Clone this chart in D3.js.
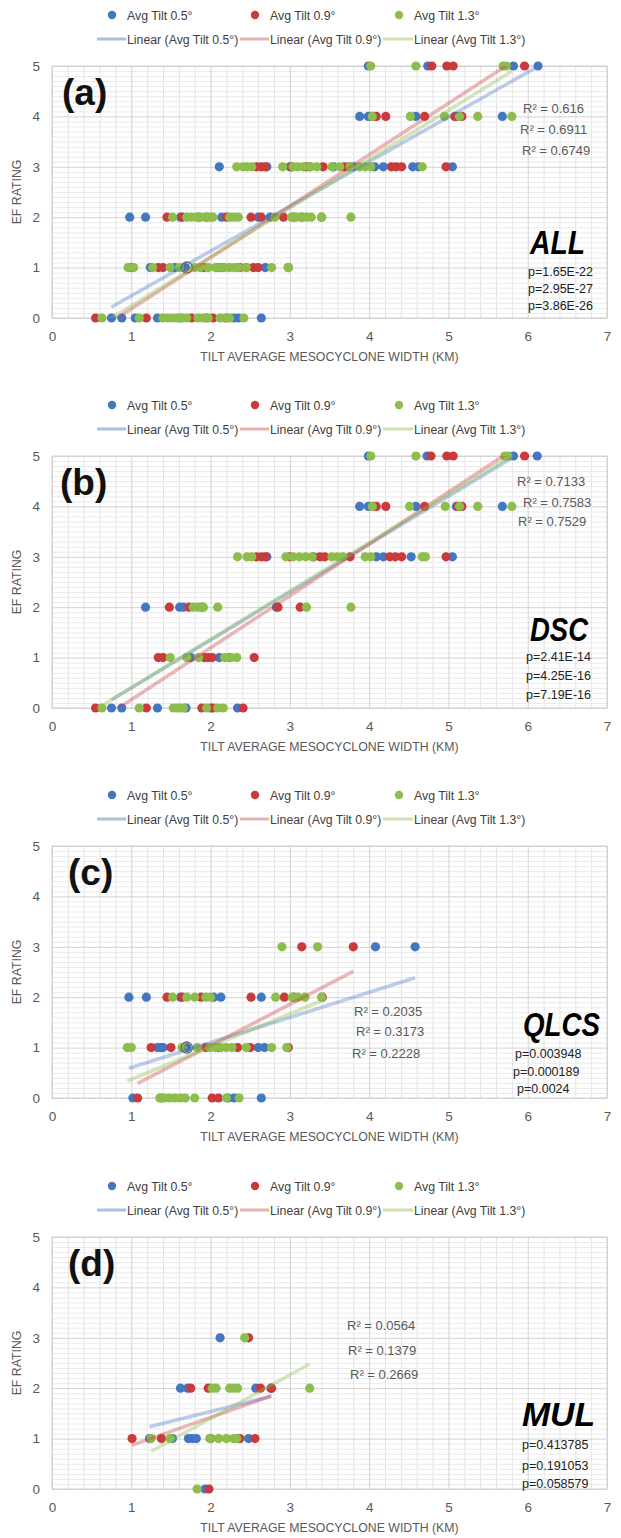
<!DOCTYPE html>
<html>
<head>
<meta charset="utf-8">
<script src="https://cdn.jsdelivr.net/npm/d3@7"></script>
<style>
  body { margin: 0; background: #fff; }
  svg text { font-family: "Liberation Sans", Arial, sans-serif; }
</style>
</head>
<body>
<svg id="chart" width="621" height="1538"></svg>
<script>
// ---- axis ticks and series ----
const xTicks = [0, 1, 2, 3, 4, 5, 6, 7];
const yTicks = [0, 1, 2, 3, 4, 5];
const seriesNames = ["Avg Tilt 0.5°", "Avg Tilt 0.9°", "Avg Tilt 1.3°"];
const trendNames = ["Linear (Avg Tilt 0.5°)", "Linear (Avg Tilt 0.9°)", "Linear (Avg Tilt 1.3°)"];
const xTitle = "TILT AVERAGE MESOCYCLONE WIDTH (KM)";
const yTitle = "EF RATING";

// Mesocyclone widths (km), indexed by EF rating 0..5

// (a) ALL
const allTilt05 = [
  [0.75, 0.88, 1.05, 1.33, 1.62, 2.29, 2.35, 2.64],
  [1.24, 1.55, 1.68, 2.10, 2.45, 2.69],
  [0.98, 1.18, 1.62, 1.85, 2.14, 2.60, 2.75, 3.05],
  [2.11, 2.71, 3.00, 3.25, 3.55, 3.80, 4.07, 4.18, 4.55, 4.62, 5.05],
  [3.88, 3.99, 4.59, 5.10, 5.68],
  [3.99, 4.74, 5.82, 6.13]
];
const allTilt09 = [
  [0.55, 1.19, 1.76, 1.95, 2.03, 2.20],
  [1.00, 1.34, 1.40, 1.91, 2.15, 2.37, 2.54, 2.60, 2.98],
  [1.45, 1.64, 1.95, 2.20, 2.51, 2.64, 2.92, 3.15, 3.40],
  [2.58, 2.64, 2.69, 3.02, 3.20, 3.42, 3.69, 3.75, 4.28, 4.34, 4.41, 4.97],
  [4.05, 4.09, 4.21, 4.70, 5.08, 5.17],
  [4.79, 4.98, 5.06, 5.96]
];
const allTilt13 = [
  [0.63, 1.10, 1.40, 1.46, 1.52, 1.58, 1.64, 1.70, 1.84, 1.90, 1.97, 2.12, 2.18, 2.24, 2.42],
  [0.96, 1.03, 1.27, 1.49, 1.61, 1.80, 1.87, 1.97, 2.06, 2.12, 2.18, 2.24, 2.30, 2.35, 2.45, 2.77, 2.98],
  [1.52, 1.70, 1.76, 1.82, 1.88, 1.94, 2.00, 2.03, 2.24, 2.30, 2.35, 2.81, 3.02, 3.08, 3.14, 3.21, 3.27, 3.40, 3.77],
  [2.33, 2.41, 2.46, 2.52, 2.91, 3.04, 3.10, 3.17, 3.26, 3.34, 3.53, 3.63, 3.76, 3.88, 3.95, 4.02, 4.67],
  [4.04, 4.52, 4.95, 5.14, 5.37, 5.80],
  [4.02, 4.59, 5.69, 5.73]
];
const allTrend = [[0.887, -0.446], [1.02, -0.84], [0.97, -0.73]]; // slope, intercept
const allR2 = ["R² = 0.616", "R² = 0.6911", "R² = 0.6749"];
const allP = ["p=1.65E-22", "p=2.95E-27", "p=3.86E-26"];

// (b) DSC
const dscTilt05 = [
  [0.75, 0.88, 1.33, 1.69, 2.00, 2.34],
  [1.75, 2.11, 2.24],
  [1.18, 1.61, 1.66, 2.83],
  [2.71, 3.30, 4.09, 4.18, 4.53, 5.05],
  [3.88, 3.99, 4.59, 5.10, 5.68],
  [3.99, 4.73, 5.82, 6.12]
];
const dscTilt09 = [
  [0.55, 1.19, 1.89, 2.03, 2.41],
  [1.34, 1.40, 1.92, 1.97, 2.02, 2.55],
  [1.48, 1.73, 1.89, 2.85, 3.13],
  [2.58, 2.64, 2.69, 3.00, 3.38, 3.44, 3.76, 4.26, 4.33, 4.41, 4.97],
  [4.05, 4.09, 4.21, 4.70, 5.12, 5.17],
  [4.78, 4.98, 5.06, 5.96]
];
const dscTilt13 = [
  [0.63, 1.10, 1.53, 1.58, 1.62, 1.66, 1.95, 2.09, 2.16],
  [1.49, 1.70, 1.85, 2.18, 2.26, 2.33],
  [1.78, 1.84, 1.91, 2.09, 3.21, 3.77],
  [2.34, 2.46, 2.52, 2.95, 3.04, 3.12, 3.20, 3.28, 3.53, 3.60, 3.67, 3.95, 4.02, 4.67, 4.71],
  [4.04, 4.51, 4.96, 5.14, 5.37, 5.80],
  [4.02, 4.59, 5.71, 5.75]
];
const dscTrend = [[0.95, -0.55], [1.03, -0.865], [0.96, -0.56]];
const dscR2 = ["R² = 0.7133", "R² = 0.7583", "R² = 0.7529"];
const dscP = ["p=2.41E-14", "p=4.25E-16", "p=7.19E-16"];

// (c) QLCS
const qlcsTilt05 = [
  [1.02, 1.38, 2.22, 2.30, 2.64],
  [1.33, 1.37, 1.40, 1.70, 2.60, 2.68],
  [0.97, 1.19, 1.62, 2.04, 2.13, 2.64, 3.05],
  [4.08, 4.58],
  [],
  []
];
const qlcsTilt09 = [
  [1.08, 2.02, 2.10],
  [1.25, 1.50, 1.94, 2.10, 2.34, 2.50, 2.98],
  [1.45, 1.64, 1.88, 2.51, 2.93, 3.41],
  [3.15, 3.80],
  [],
  []
];
const qlcsTilt13 = [
  [1.36, 1.42, 1.48, 1.55, 1.62, 1.68, 1.80, 2.20, 2.36],
  [0.95, 1.00, 1.64, 1.83, 1.99, 2.06, 2.13, 2.20, 2.27, 2.45, 2.77, 2.96],
  [1.52, 1.70, 1.80, 1.94, 2.00, 2.82, 3.03, 3.10, 3.19, 3.40],
  [2.90, 3.35],
  [],
  []
];
const qlcsTrend = [[0.497, 0.108], [0.816, -0.59], [0.65, -0.28]];
const qlcsR2 = ["R² = 0.2035", "R² = 0.3173", "R² = 0.2228"];
const qlcsP = ["p=0.003948", "p=0.000189", "p=0.0024"];

// (d) MUL
const mulTilt05 = [
  [1.93],
  [1.23, 1.52, 1.72, 1.77, 1.82, 2.48],
  [1.62, 1.71, 2.57, 2.76],
  [2.12],
  [],
  []
];
const mulTilt09 = [
  [1.98],
  [1.01, 1.38, 2.00, 2.37, 2.56],
  [1.75, 1.97, 2.63, 2.77],
  [2.48],
  [],
  []
];
const mulTilt13 = [
  [1.83],
  [1.25, 1.49, 1.99, 2.10, 2.20, 2.29, 2.33],
  [2.02, 2.07, 2.24, 2.29, 2.34, 3.25],
  [2.43],
  [],
  []
];
const mulTrend = [[0.395, 0.748], [0.557, 0.307], [0.866, -0.334]];
const mulR2 = ["R² = 0.0564", "R² = 0.1379", "R² = 0.2669"];
const mulP = ["p=0.413785", "p=0.191053", "p=0.058579"];

// selected-point ring markers [width, EF]
const allSelected = [[1.70, 1]];
const qlcsSelected = [[1.70, 1]];

// ---- layout & style ----
const colors = ["#4477c2", "#c93a3c", "#8dbd4a"];
const trendColors = ["#a9c0e0", "#e6b2b1", "#cfe0b2"];
const plotL = 52, plotR = 607, plotT = 66, plotB = 318;

const panels = [
  { top: 0, label: "(a)", labelX: 62, tag: "ALL", tagW: 55,
    series: [allTilt05, allTilt09, allTilt13], trend: allTrend, r2: allR2, p: allP, selected: allSelected,
    r2Pos: [[523, 113], [520, 134], [522, 155]], tagPos: [530, 254], pPos: [[528, 276], [528, 293], [528, 310]] },
  { top: 390, label: "(b)", labelX: 60, tag: "DSC", tagW: 58,
    series: [dscTilt05, dscTilt09, dscTilt13], trend: dscTrend, r2: dscR2, p: dscP, selected: [],
    r2Pos: [[517, 96], [523, 117], [518, 136]], tagPos: [530, 251], pPos: [[526, 271], [526, 290], [526, 309]] },
  { top: 780, label: "(c)", labelX: 68, tag: "QLCS", tagW: 77,
    series: [qlcsTilt05, qlcsTilt09, qlcsTilt13], trend: qlcsTrend, r2: qlcsR2, p: qlcsP, selected: qlcsSelected,
    r2Pos: [[354, 236], [356, 256], [352, 278]], tagPos: [523, 256], pPos: [[515, 278], [513, 296], [517, 313]] },
  { top: 1171, label: "(d)", labelX: 68, tag: "MUL", tagW: 73,
    series: [mulTilt05, mulTilt09, mulTilt13], trend: mulTrend, r2: mulR2, p: mulP, selected: [],
    r2Pos: [[347, 159], [348, 184], [350, 208]], tagPos: [522, 255], pPos: [[522, 278], [522, 299], [522, 317]] }
];

const svg = d3.select("#chart");
const x = d3.scaleLinear().domain([0, 7]).range([plotL, plotR]);
const y = d3.scaleLinear().domain([0, 5]).range([plotB, plotT]);

const minorX = d3.range(0, 36).map(k => +(k * 0.2).toFixed(1)).filter(v => v % 1 !== 0);
const minorY = d3.range(0, 51).map(k => +(k * 0.1).toFixed(1)).filter(v => v % 1 !== 0);

panels.forEach((p, i) => {
  const g = svg.append("g").attr("transform", `translate(0,${p.top})`);

  // legend
  const leg = g.append("g").attr("class", "legend");
  const legX = [[112, 127], [255, 270], [399, 414]];
  const lineX = [[97, 126, 127], [240, 269, 270], [383, 413, 414]];
  seriesNames.forEach((name, s) => {
    leg.append("circle").attr("cx", legX[s][0]).attr("cy", 15).attr("r", 4.2).attr("fill", colors[s]);
    leg.append("text").attr("x", legX[s][1]).attr("y", 19.5).attr("font-size", 12.3).attr("fill", "#404040").text(name);
    leg.append("line").attr("x1", lineX[s][0]).attr("x2", lineX[s][1]).attr("y1", 39).attr("y2", 39)
      .attr("stroke", trendColors[s]).attr("stroke-width", 3);
    leg.append("text").attr("x", lineX[s][2]).attr("y", 43.5).attr("font-size", 12.3).attr("fill", "#404040").text(trendNames[s]);
  });

  // grid
  g.append("g").attr("transform", `translate(0,${plotB})`)
    .call(d3.axisBottom(x).tickValues(minorX).tickSize(-(plotB - plotT)).tickFormat(""))
    .call(a => a.select(".domain").remove())
    .call(a => a.selectAll("line").attr("stroke", "#e3e3e3"));
  g.append("g").attr("transform", `translate(${plotL},0)`)
    .call(d3.axisLeft(y).tickValues(minorY).tickSize(-(plotR - plotL)).tickFormat(""))
    .call(a => a.select(".domain").remove())
    .call(a => a.selectAll("line").attr("stroke", "#ebebeb"));
  g.append("g").attr("transform", `translate(0,${plotB})`)
    .call(d3.axisBottom(x).tickValues(xTicks).tickSize(-(plotB - plotT)).tickFormat(""))
    .call(a => a.select(".domain").remove())
    .call(a => a.selectAll("line").attr("stroke", "#d2d2d2"));
  g.append("g").attr("transform", `translate(${plotL},0)`)
    .call(d3.axisLeft(y).tickValues(yTicks).tickSize(-(plotR - plotL)).tickFormat(""))
    .call(a => a.select(".domain").remove())
    .call(a => a.selectAll("line").attr("stroke", "#d2d2d2"));
  g.append("rect").attr("x", plotL).attr("y", plotT).attr("width", plotR - plotL).attr("height", plotB - plotT)
    .attr("fill", "none").attr("stroke", "#d2d2d2");

  // tick labels
  g.append("g").attr("transform", `translate(0,${plotB})`)
    .call(d3.axisBottom(x).tickValues(xTicks).tickSize(0).tickPadding(13).tickFormat(d3.format("d")))
    .call(a => a.select(".domain").remove())
    .call(a => a.selectAll("text").attr("font-size", 13.5).attr("fill", "#595959").attr("font-family", null));
  g.append("g").attr("transform", `translate(${plotL},0)`)
    .call(d3.axisLeft(y).tickValues(yTicks).tickSize(0).tickPadding(12).tickFormat(d3.format("d")))
    .call(a => a.select(".domain").remove())
    .call(a => a.selectAll("text").attr("font-size", 13.5).attr("fill", "#595959").attr("font-family", null));

  // axis titles
  g.append("text").attr("x", (plotL + plotR) / 2).attr("y", 361).attr("text-anchor", "middle")
    .attr("font-size", 12.3).attr("fill", "#595959").text(xTitle);
  g.append("text").attr("transform", `translate(21,${(plotT + plotB) / 2}) rotate(-90)`).attr("text-anchor", "middle")
    .attr("font-size", 12.3).attr("fill", "#595959").text(yTitle);

  // points
  const clipId = "plotclip" + i;
  g.append("clipPath").attr("id", clipId).append("rect")
    .attr("x", plotL).attr("y", plotT).attr("width", plotR - plotL).attr("height", plotB - plotT);

  p.series.forEach((rows, s) => {
    const pts = rows.flatMap((vals, ef) => vals.map(v => [v, ef]));
    g.append("g").selectAll("circle").data(pts).join("circle")
      .attr("cx", d => x(d[0])).attr("cy", d => y(d[1])).attr("r", 4.6).attr("fill", colors[s]);
  });

  g.append("g").selectAll("g").data(p.selected).join("g").each(function (d) {
    const sg = d3.select(this);
    sg.append("circle").attr("cx", x(d[0])).attr("cy", y(d[1])).attr("r", 5.6)
      .attr("fill", "none").attr("stroke", "#666", 1).attr("stroke-width", 1.3);
    sg.append("circle").attr("cx", x(d[0])).attr("cy", y(d[1])).attr("r", 2.8)
      .attr("fill", "none").attr("stroke", "#666").attr("stroke-width", 1);
  });

  // linear trend lines over each series' width range
  const tl = g.append("g").attr("clip-path", `url(#${clipId})`);
  p.series.forEach((rows, s) => {
    const xs = rows.flat();
    const [m, b] = p.trend[s];
    const ext = d3.extent(xs);
    tl.append("line")
      .attr("x1", x(ext[0])).attr("y1", y(m * ext[0] + b))
      .attr("x2", x(ext[1])).attr("y2", y(m * ext[1] + b))
      .attr("stroke", colors[s]).attr("stroke-opacity", 0.36).attr("stroke-width", 3.6);
  });

  // annotations
  g.append("text").attr("x", p.labelX).attr("y", 105).attr("font-size", 37).attr("font-weight", "bold")
    .attr("fill", "#111").text(p.label);
  p.r2.forEach((t, k) => {
    g.append("text").attr("x", p.r2Pos[k][0]).attr("y", p.r2Pos[k][1]).attr("font-size", 13)
      .attr("fill", "#595959").text(t);
  });
  g.append("text").attr("x", p.tagPos[0]).attr("y", p.tagPos[1]).attr("font-size", 34)
    .attr("font-weight", "bold").attr("font-style", "italic").attr("fill", "#000")
    .attr("textLength", p.tagW).attr("lengthAdjust", "spacingAndGlyphs").text(p.tag);
  p.p.forEach((t, k) => {
    g.append("text").attr("x", p.pPos[k][0]).attr("y", p.pPos[k][1]).attr("font-size", 12.5)
      .attr("fill", "#222").text(t);
  });
});
</script>
</body>
</html>
